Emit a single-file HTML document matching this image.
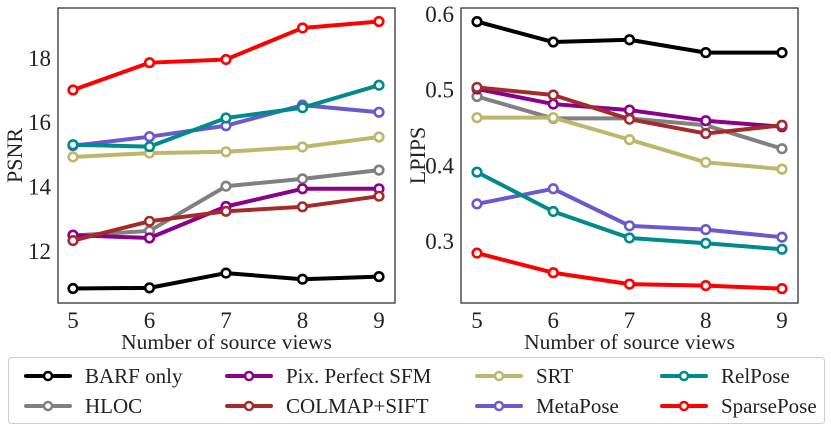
<!DOCTYPE html>
<html><head><meta charset="utf-8"><style>
body{margin:0;background:#fff;}
svg{display:block;font-family:"Liberation Serif",serif;}
</style></head><body>
<svg id="chart" width="831" height="430" font-family="Liberation Serif, serif"></svg>
<script>
const views=[5,6,7,8,9];
const methods=["BARF only","HLOC","Pix. Perfect SFM","COLMAP+SIFT","SRT","MetaPose","RelPose","SparsePose"];
const colors=["#000000","#808080","#8b008b","#a52a2a","#bdb76b","#6a5acd","#008b8b","#ff0000"];
const psnrBARF=[10.83,10.85,11.31,11.12,11.2];
const psnrHLOC=[12.48,12.62,14.01,14.24,14.51];
const psnrPix=[12.49,12.4,13.38,13.93,13.93];
const psnrCOLMAP=[12.32,12.92,13.23,13.37,13.7];
const psnrSRT=[14.92,15.04,15.08,15.23,15.54];
const psnrMeta=[15.27,15.55,15.89,16.53,16.31];
const psnrRel=[15.3,15.24,16.13,16.45,17.15];
const psnrSparse=[17.0,17.85,17.95,18.93,19.13];
const lpBARF=[0.59,0.563,0.566,0.549,0.549];
const lpHLOC=[0.491,0.462,0.462,0.453,0.422];
const lpPix=[0.501,0.481,0.473,0.459,0.451];
const lpCOLMAP=[0.503,0.493,0.461,0.442,0.453];
const lpSRT=[0.463,0.463,0.434,0.404,0.395];
const lpMeta=[0.349,0.369,0.32,0.315,0.305];
const lpRel=[0.391,0.339,0.304,0.297,0.289];
const lpSparse=[0.284,0.258,0.243,0.241,0.237];
const psnrTicks=[12,14,16,18];
const lpTicks=[0.3,0.4,0.5,0.6];
const psnrSeries=[psnrBARF,psnrHLOC,psnrPix,psnrCOLMAP,psnrSRT,psnrMeta,psnrRel,psnrSparse];
const lpSeries=[lpBARF,lpHLOC,lpPix,lpCOLMAP,lpSRT,lpMeta,lpRel,lpSparse];
const legendOrder=[0,2,4,6,1,3,5,7];

const NS="http://www.w3.org/2000/svg";
const svg=document.getElementById('chart');
function mk(tag,attrs,parent){const e=document.createElementNS(NS,tag);for(const k in attrs)e.setAttribute(k,attrs[k]);(parent||svg).appendChild(e);return e;}

function panel(name,box,px,yr,ticks,series,label,fmt){
  const g=mk('g',{});
  
  
  const xs=v=>px[0]+(v-5)/4*(px[1]-px[0]);
  const ys=v=>box.y1-(v-yr[0])/(yr[1]-yr[0])*(box.y1-box.y0);
  const r=mk('rect',{x:box.x0,y:box.y0,width:box.x1-box.x0,height:box.y1-box.y0,fill:'none',stroke:'#333','stroke-width':1.3},g);
  
  
  views.forEach(v=>{
    const t=mk('text',{x:xs(v),y:328,'text-anchor':'middle','font-size':23,fill:'#222'},g);
    t.textContent=v;
    
    
  });
  ticks.forEach(v=>{
    const t=mk('text',{x:box.x0-7,y:ys(v)+8,'text-anchor':'end','font-size':23,fill:'#222'},g);
    t.textContent=fmt(v);
    
    
  });
  const xl=mk('text',{x:(box.x0+box.x1)/2,y:349,'text-anchor':'middle','font-size':21.5,fill:'#222'},g);
  xl.textContent='Number of source views';
  
  
  const yx=box.x0-36, yc=(box.y0+box.y1)/2;
  const yl=mk('text',{x:yx,y:yc,'text-anchor':'middle','font-size':22,fill:'#222',transform:`rotate(-90 ${yx} ${yc})`},g);
  yl.textContent=label;
  
  
  series.forEach((s,i)=>{
    const sg=mk('g',{},g);
    
    
    mk('polyline',{points:s.map((v,j)=>xs(views[j])+','+ys(v)).join(' '),fill:'none',stroke:colors[i],'stroke-width':4,'stroke-linejoin':'round'},sg);
    s.forEach((v,j)=>{
      const c=mk('circle',{cx:xs(views[j]),cy:ys(v),r:4.3,fill:'#fff',stroke:colors[i],'stroke-width':2.6},sg);
      
      
    });
  });
}
panel('psnr',{x0:58,x1:395,y0:8,y1:303},[73,379],[10.38,19.55],psnrTicks,psnrSeries,'PSNR',v=>v);
panel('lpips',{x0:461,x1:798,y0:8,y1:303},[477,782],[0.218,0.608],lpTicks,lpSeries,'LPIPS',v=>v.toFixed(1));

const lg=mk('g',{});


mk('rect',{x:8.5,y:357.5,width:816,height:66,rx:3,fill:'#fff',stroke:'#ccc','stroke-width':1},lg);
const colX=[24,225,475,660];
legendOrder.forEach((m,k)=>{
  const cx=colX[k%4], cy=k<4?376:406;
  const e=mk('g',{},lg);
  
  
  mk('line',{x1:cx+2,y1:cy,x2:cx+46,y2:cy,stroke:colors[m],'stroke-width':4,'stroke-linecap':'round'},e);
  mk('circle',{cx:cx+24,cy:cy,r:4,fill:'#fff',stroke:colors[m],'stroke-width':2.5},e);
  const t=mk('text',{x:cx+61,y:cy+7,'font-size':21,fill:'#222'},e);
  t.textContent=methods[m];
});
</script>
</body></html>
